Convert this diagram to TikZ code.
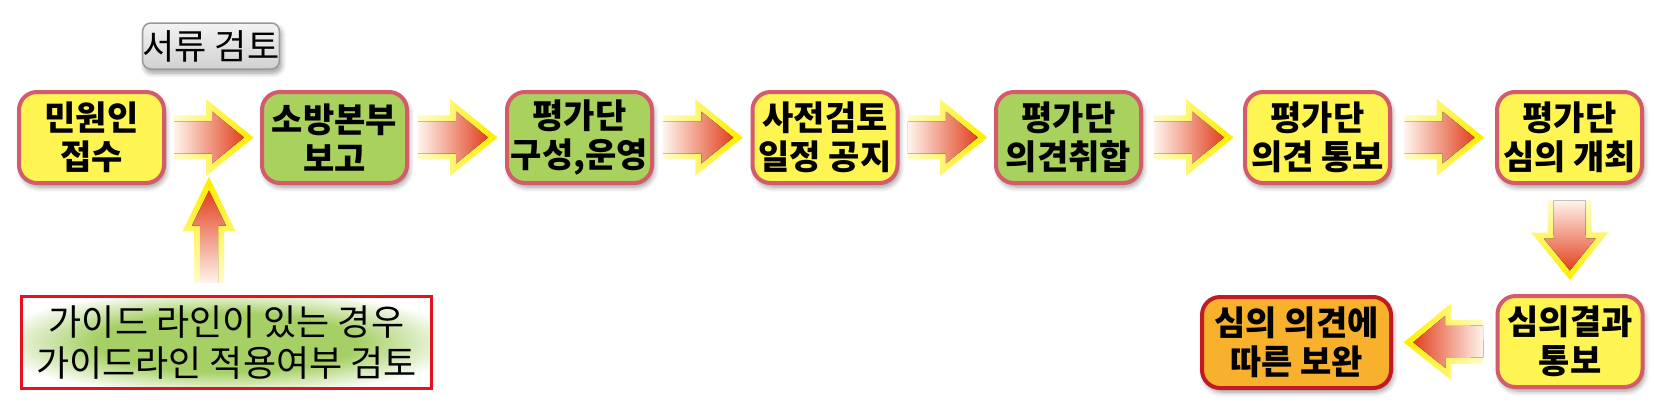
\documentclass[tikz,border=0pt]{standalone}
\usepackage{fontspec}
\setmainfont{Noto Sans CJK KR}
\usetikzlibrary{calc,fadings,shadows.blur}
\definecolor{boxyellow}{HTML}{FFF552}
\definecolor{boxgreen}{HTML}{A9D15E}
\definecolor{boxorange}{HTML}{F8B12C}
\definecolor{boxborder}{HTML}{D45B6B}
\definecolor{orangeborder}{HTML}{C21A24}
\definecolor{arrowred}{HTML}{E2401F}
\definecolor{tailc}{HTML}{FFF4EC}
\definecolor{glowyellow}{HTML}{FFEE00}
\definecolor{guideborder}{HTML}{E8101E}
\definecolor{glowg}{HTML}{A6D066}
\pgfdeclareradialshading{glow}{\pgfpointorigin}{color(0bp)=(glowg); color(16bp)=(glowg); color(23bp)=(glowg!45!white); color(29bp)=(white); color(50bp)=(white)}
\tikzfading[name=fR, left color=transparent!85, right color=transparent!0]
\tikzfading[name=fL, left color=transparent!0, right color=transparent!85]
\tikzfading[name=fD, top color=transparent!85, bottom color=transparent!0]
\tikzfading[name=fU, top color=transparent!0, bottom color=transparent!85]
% #1 tail, #2 tip, #3 shaft half width, #4 head half width, #5 head length, #6 fill shading, #7 fading
\newcommand{\fatarrow}[7]{%
  \coordinate (fa-hb) at ($(#2)!#5!(#1)$);
  \coordinate (fa-t1) at ($(#1)!#3!90:(#2)$);
  \coordinate (fa-t2) at ($(#1)!#3!-90:(#2)$);
  \coordinate (fa-b1) at ($(fa-hb)!#3!90:(#2)$);
  \coordinate (fa-b2) at ($(fa-hb)!#3!-90:(#2)$);
  \coordinate (fa-c1) at ($(fa-hb)!#4!90:(#2)$);
  \coordinate (fa-c2) at ($(fa-hb)!#4!-90:(#2)$);
  \draw[glowline, path fading=#7] (fa-t1) -- (fa-b1) -- (fa-c1) -- (#2) -- (fa-c2) -- (fa-b2) -- (fa-t2);
  \fill[#6] (fa-t1) -- (fa-b1) -- (fa-c1) -- (#2) -- (fa-c2) -- (fa-b2) -- (fa-t2) -- cycle;}
% #1 source anchor, #2 target anchor, #3 fill shading, #4 fading
\newcommand{\linkarrow}[4]{%
  \coordinate (la-m) at ($(#1)!.5!(#2)$);
  \coordinate (la-s) at ($(la-m)!39pt!(#1)$);
  \coordinate (la-e) at ($(la-m)!31pt!(#2)$);
  \fatarrow{la-s}{la-e}{16pt}{26pt}{32pt}{#3}{#4}}
\tikzset{
  glowline/.style={draw=glowyellow, line width=12pt, line join=miter},
  softshadow/.style={blur shadow={shadow xshift=2pt, shadow yshift=-4pt, shadow blur radius=5pt, shadow blur steps=6, shadow opacity=40}},
  box/.style={rectangle, rounded corners=18pt, line width=4pt, draw=boxborder,
    minimum width=145pt, minimum height=91pt, inner sep=0pt, align=center,
    font=\fontsize{34}{39}\selectfont\bfseries, softshadow},
  ybox/.style={box, fill=boxyellow},
  gbox/.style={box, fill=boxgreen},
  obox/.style={box, fill=boxorange, draw=orangeborder, minimum width=189pt},
  titlebox/.style={rectangle, rounded corners=8pt, line width=1.5pt, draw=black!40,
    top color=black!5, bottom color=black!18, minimum width=136pt, minimum height=46pt,
    inner sep=0pt, font=\fontsize{35}{40}\selectfont, softshadow},
  guidebox/.style={rectangle, line width=3.5pt, draw=guideborder, shade, shading=glow,
    minimum width=410pt, minimum height=92pt, inner sep=0pt, align=center,
    font=\fontsize{36}{41}\selectfont}
}
\begin{document}
\begin{tikzpicture}[x=1pt,y=-1pt]
\useasboundingbox (0,0) rectangle (1654,413);
\node[titlebox] (t) at (211,46) {서류 검토};
\node[ybox] (b1) at (91.5,137.5) {민원인\\접수};
\node[gbox] (b2) at (334.5,137.5) {소방본부\\보고};
\node[gbox] (b3) at (579.5,137.5) {평가단\\구성,운영};
\node[ybox] (b4) at (825,137.5) {사전검토\\일정 공지};
\node[gbox] (b5) at (1068.5,137.5) {평가단\\의견취합};
\node[ybox] (b6) at (1317.5,137.5) {평가단\\의견 통보};
\node[ybox] (b7) at (1569.5,137.5) {평가단\\심의 개최};
\node[ybox] (b8) at (1570,341.5) {심의결과\\통보};
\node[obox] (b9) at (1296.5,342.5) {심의 의견에\\따른 보완};
\node[guidebox] (g) at (226.5,342.5) {가이드 라인이 있는 경우\\가이드라인 적용여부 검토};
\linkarrow{b1.east}{b2.west}{left color=tailc, right color=arrowred}{fR}
\linkarrow{b2.east}{b3.west}{left color=tailc, right color=arrowred}{fR}
\linkarrow{b3.east}{b4.west}{left color=tailc, right color=arrowred}{fR}
\linkarrow{b4.east}{b5.west}{left color=tailc, right color=arrowred}{fR}
\linkarrow{b5.east}{b6.west}{left color=tailc, right color=arrowred}{fR}
\linkarrow{b6.east}{b7.west}{left color=tailc, right color=arrowred}{fR}
\linkarrow{b7.south}{b8.north}{top color=tailc, bottom color=arrowred}{fD}
\linkarrow{b8.west}{b9.east}{left color=arrowred, right color=tailc}{fL}
\coordinate (a1m) at ($($(b1.east)!.5!(b2.west)$)+(-4,0)$);
\coordinate (ua-s) at ($(g.north -| a1m)+(0,-12)$);
\coordinate (ua-e) at ($(a1m)+(0,53)$);
\fatarrow{ua-s}{ua-e}{9pt}{17pt}{35pt}{top color=arrowred, bottom color=tailc}{fU}
\end{tikzpicture}
\end{document}
